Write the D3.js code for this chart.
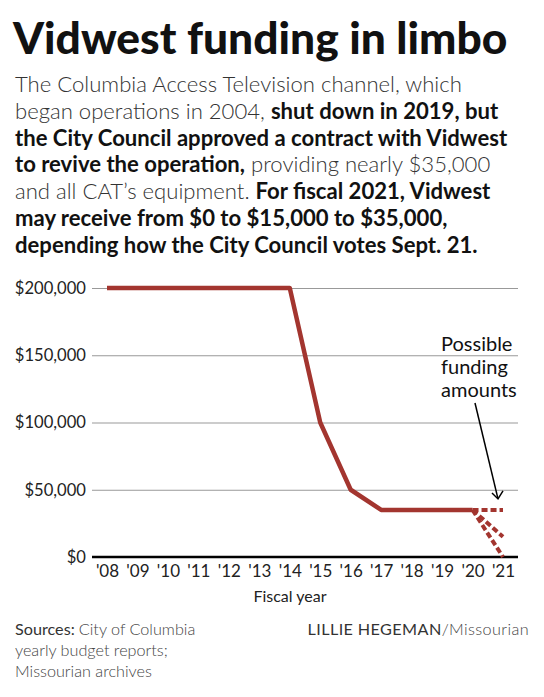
<!DOCTYPE html>
<html lang="en">
<head>
<meta charset="UTF-8">
<title>Vidwest funding in limbo</title>
<style>
body { margin: 0; background: #fff; }
svg { font-family: Lato, sans-serif; display: block; }
</style>
</head>
<body>
<div class="chart"></div>
<script src="https://cdn.jsdelivr.net/npm/d3@7"></script>
<script>
var years = [2008, 2009, 2010, 2011, 2012, 2013, 2014, 2015, 2016, 2017, 2018, 2019, 2020];
var funding = [200000, 200000, 200000, 200000, 200000, 200000, 200000, 100000, 50000, 35000, 35000, 35000, 35000];
var options2021 = [35000, 15000, 0];
var yTicks = [0, 50000, 100000, 150000, 200000];
var xTicks = [2008, 2009, 2010, 2011, 2012, 2013, 2014, 2015, 2016, 2017, 2018, 2019, 2020, 2021];

var red = '#a3352f';

var svg = d3.select('.chart')
	.append('svg')
	.attr('width', 544)
	.attr('height', 697);

// headline
svg.append('text')
	.attr('x', 13).attr('y', 54)
	.style('font-weight', 900)
	.style('font-size', '44.3px')
	.style('fill', '#111')
	.text('Vidwest funding in limbo');

// intro, each line a list of [text, bold]
var intro = [
	[['The Columbia Access Television channel, which', false]],
	[['began operations in 2004, ', false], ['shut down in 2019, but', true]],
	[['the City Council approved a contract with Vidwest', true]],
	[['to revive the operation,', true], [' providing nearly $35,000', false]],
	[['and all CAT\u2019s equipment. ', false], ['For fiscal 2021, Vidwest', true]],
	[['may receive from $0 to $15,000 to $35,000,', true]],
	[['depending how the City Council votes Sept. 21.', true]]
];
var intro_g = svg.append('g');
intro.forEach(function(line, i) {
	var t = intro_g.append('text')
		.attr('x', 15).attr('y', 92 + i * 26.8)
		.style('font-size', '22.1px');
	line.forEach(function(part) {
		t.append('tspan')
			.style('font-weight', part[1] ? 700 : 300)
			.style('fill', part[1] ? '#111' : '#333')
			.text(part[0]);
	});
});

var x = d3.scaleLinear().domain([2008, 2021]).range([107, 503]);
var y = d3.scaleLinear().domain([0, 200000]).range([557, 288]);

// grid + y labels
var yAxis = d3.axisLeft(y)
	.tickValues(yTicks)
	.tickSize(-426)
	.tickPadding(6)
	.tickFormat(function(d) { return '$' + d3.format(',')(d); });
var yg = svg.append('g')
	.attr('transform', 'translate(92,0)')
	.call(yAxis);
yg.select('.domain').remove();
yg.selectAll('.tick line').attr('stroke', '#999').attr('stroke-width', 1)
	.attr('x1', 0).attr('x2', 426);
yg.selectAll('.tick text')
	.style('font-size', '16.6px')
	.style('font-family', 'Lato')
	.style('fill', '#222');

// x axis
var xAxis = d3.axisBottom(x)
	.tickValues(xTicks)
	.tickSize(0)
	.tickPadding(8)
	.tickFormat(function(d) { return "'" + String(d).slice(2); });
var xg = svg.append('g')
	.attr('transform', 'translate(0,557)')
	.call(xAxis);
xg.select('.domain').remove();
xg.append('line')
	.attr('x1', 92).attr('x2', 518)
	.attr('stroke', '#000').attr('stroke-width', 2.5);
xg.selectAll('.tick text')
	.style('font-size', '17px')
	.style('font-family', 'Lato')
	.style('fill', '#222');

svg.append('text')
	.attr('x', 290).attr('y', 602)
	.attr('text-anchor', 'middle')
	.style('font-size', '16px')
	.style('fill', '#222')
	.text('Fiscal year');

// main line
var line = d3.line()
	.x(function(d) { return x(d[0]); })
	.y(function(d) { return y(d[1]); });
svg.append('path')
	.datum(years.map(function(d, i) { return [d, funding[i]]; }))
	.attr('d', line)
	.attr('fill', 'none')
	.attr('stroke', red)
	.attr('stroke-width', 4.5)
	.attr('stroke-linejoin', 'round');

// possible 2021 values
var last = funding[funding.length - 1];
svg.selectAll('.option')
	.data(options2021)
	.enter()
	.append('path')
	.attr('class', 'option')
	.attr('d', function(d) { return line([[2020, last], [2021, d]]); })
	.attr('fill', 'none')
	.attr('stroke', red)
	.attr('stroke-width', 4)
	.attr('stroke-dasharray', '6,3');

// annotation
var note = svg.append('text')
	.attr('x', 441)
	.style('font-size', '20px')
	.style('fill', '#111');
['Possible', 'funding', 'amounts'].forEach(function(s, i) {
	note.append('tspan').attr('x', 441).attr('y', 351 + i * 23).text(s);
});
var ax = x(2021) - 5, ay = y(options2021[0]) - 11;
svg.append('line')
	.attr('x1', 475).attr('y1', 403)
	.attr('x2', ax).attr('y2', ay)
	.attr('stroke', '#000').attr('stroke-width', 1.5);
svg.append('path')
	.attr('d', 'M' + (ax - 6) + ',' + (ay - 6) + 'L' + ax + ',' + ay + 'L' + (ax + 5) + ',' + (ay - 8))
	.attr('fill', 'none')
	.attr('stroke', '#000').attr('stroke-width', 1.5);

// footer
var src = svg.append('g').style('font-size', '16.2px');
var s1 = src.append('text').attr('x', 15).attr('y', 635);
s1.append('tspan').style('font-weight', 400).style('fill', '#333').text('Sources: ');
s1.append('tspan').style('font-weight', 300).style('fill', '#444').text('City of Columbia');
src.append('text').attr('x', 15).attr('y', 656).style('font-weight', 300).style('fill', '#444').text('yearly budget reports;');
src.append('text').attr('x', 15).attr('y', 677).style('font-weight', 300).style('fill', '#444').text('Missourian archives');

var cr = svg.append('text')
	.attr('x', 529).attr('y', 635)
	.attr('text-anchor', 'end')
	.style('font-size', '16.2px')
	.style('letter-spacing', '0.4px');
cr.append('tspan').style('font-weight', 400).style('fill', '#333').text('LILLIE HEGEMAN');
cr.append('tspan').style('font-weight', 300).style('fill', '#444').text('/Missourian');
</script>
</body>
</html>
